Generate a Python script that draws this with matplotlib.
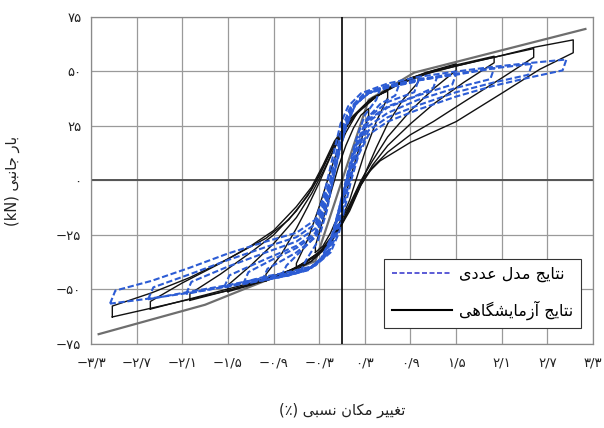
import matplotlib
matplotlib.use("Agg")
import matplotlib.pyplot as plt
from matplotlib.lines import Line2D

plt.rcParams['font.family'] = ['DejaVu Sans']

# ---- data (drift %, lateral load kN) ----
Y_TICKS = [-75, -50, -25, 0, 25, 50, 75]
Y_LABELS = ['−۷۵', '−۵۰', '−۲۵', '۰', '۲۵', '۵۰', '۷۵']
X_TICKS = [-3.3, -2.7, -2.1, -1.5, -0.9, -0.3, 0.3, 0.9, 1.5, 2.1, 2.7, 3.3]
X_LABELS = ['−۳/۳', '−۲/۷', '−۲/۱', '−۱/۵', '−۰/۹', '−۰/۳',
            '۰/۳', '۰/۹', '۱/۵', '۲/۱', '۲/۷', '۳/۳']

# grey straight envelope
ENVELOPE = [(-3.2, -70.5), (-1.8, -57), (-1.3, -50), (-0.35, -37), (0.35, 37), (0.95, 49.5), (3.2, 69.5)]

# experimental loops (black)
EXP_1 = [(-0.35, -33), (-0.35, -30), (-0.25, -18), (-0.15, -6), (-0.05, 6), (0.05, 16), (0.15, 24), (0.25, 30), (0.35, 33),
         (0.35, 30), (0.25, 18), (0.15, 6), (0.05, -6), (-0.05, -16), (-0.15, -24), (-0.25, -30), (-0.35, -33)]
EXP_2 = [(-0.6, -41), (-0.6, -38), (-0.45, -27), (-0.3, -12), (-0.2, -1), (-0.1, 10), (0.05, 22), (0.2, 31), (0.4, 38), (0.6, 41),
         (0.6, 38), (0.45, 27), (0.3, 13), (0.2, 2), (0.1, -9), (-0.05, -21), (-0.2, -30), (-0.4, -37), (-0.6, -41)]
EXP_3 = [(-1.0, -46), (-1.0, -43), (-0.8, -34), (-0.6, -22), (-0.45, -12), (-0.3, -1), (-0.15, 11), (0.0, 22), (0.2, 31),
         (0.45, 38.5), (0.7, 44), (1.0, 48),
         (1.0, 45), (0.8, 37), (0.6, 26), (0.45, 15), (0.3, 3), (0.15, -9), (0.0, -20), (-0.2, -30), (-0.45, -37),
         (-0.7, -42), (-1.0, -46)]
EXP_4 = [(-1.5, -51), (-1.5, -48), (-1.2, -39), (-0.9, -29), (-0.6, -17), (-0.4, -6), (-0.25, 4), (-0.1, 15), (0.1, 27),
         (0.3, 34.5), (0.6, 42), (0.9, 47), (1.2, 50.5), (1.5, 53.5),
         (1.5, 50.5), (1.2, 42), (0.9, 32), (0.6, 20), (0.4, 9), (0.25, 0), (0.1, -11), (-0.1, -24), (-0.3, -33),
         (-0.6, -40), (-0.9, -44), (-1.2, -48), (-1.5, -51)]
EXP_5 = [(-2.0, -55), (-2.0, -52), (-1.6, -43), (-1.2, -33), (-0.9, -25), (-0.6, -14), (-0.4, -4), (-0.25, 6), (-0.1, 17),
         (0.1, 28), (0.35, 36.5), (0.7, 44), (1.1, 49.5), (1.5, 53), (2.0, 57),
         (2.0, 54), (1.6, 45), (1.2, 35), (0.9, 26), (0.6, 16), (0.4, 7), (0.25, -2), (0.1, -13), (-0.1, -25),
         (-0.3, -33), (-0.6, -40), (-1.0, -46), (-1.5, -50.5), (-2.0, -55)]
EXP_6 = [(-2.52, -59), (-2.52, -55.5), (-2.1, -47), (-1.6, -38), (-1.2, -30), (-0.9, -23), (-0.6, -12), (-0.4, -3),
         (-0.25, 7), (-0.1, 18), (0.1, 28), (0.35, 36.5), (0.7, 43.5), (1.2, 50), (1.8, 55), (2.52, 60.5),
         (2.52, 56.5), (2.1, 47), (1.6, 36), (1.2, 27), (0.9, 21), (0.6, 13), (0.4, 6), (0.25, -2), (0.1, -14),
         (-0.1, -26), (-0.35, -35), (-0.7, -41.5), (-1.2, -47), (-1.8, -52.5), (-2.52, -59)]
EXP_7 = [(-3.02, -62.6), (-3.02, -57.6), (-2.5, -51.5), (-2.0, -44.5), (-1.5, -36), (-1.0, -26.5), (-0.7, -18),
         (-0.45, -7), (-0.3, 2), (-0.15, 13), (0.0, 22), (0.2, 31), (0.45, 38.5), (0.9, 47), (1.5, 52.5), (2.0, 56.5),
         (2.54, 61.2), (3.04, 64.5),
         (3.04, 58.6), (2.6, 51), (2.1, 40), (1.5, 27), (0.9, 17.5), (0.5, 9), (0.3, 2), (0.15, -8), (0.0, -19),
         (-0.15, -29), (-0.4, -37), (-0.9, -44.5), (-1.5, -50.5), (-2.0, -54.5), (-2.5, -58.5), (-3.02, -62.6)]

# numerical model loops (blue dashed)
NUM_1 = [(-0.55, -42), (-0.48, -37), (-0.32, -28), (-0.2, -14), (-0.12, 0), (-0.04, 13), (0.05, 25), (0.18, 35),
         (0.35, 40), (0.5, 42),
         (0.45, 37), (0.3, 30), (0.17, 17), (0.05, 0), (-0.04, -13), (-0.14, -26), (-0.28, -36), (-0.42, -40), (-0.55, -42)]
NUM_2 = [(-0.8, -44), (-0.73, -39), (-0.5, -31), (-0.33, -25), (-0.21, -12), (-0.12, 0), (-0.04, 12), (0.05, 24),
         (0.17, 34.5), (0.35, 40.5), (0.55, 42.5), (0.75, 44),
         (0.7, 39), (0.5, 35), (0.33, 28.5), (0.18, 16), (0.06, 0), (-0.03, -12), (-0.12, -25), (-0.26, -35.5),
         (-0.45, -41), (-0.8, -44)]
NUM_3 = [(-1.05, -46), (-0.98, -40.5), (-0.6, -33), (-0.35, -26), (-0.22, -13), (-0.13, 0), (-0.05, 12), (0.04, 24),
         (0.16, 34.5), (0.35, 40), (0.65, 43), (1.0, 45.5),
         (0.95, 40.5), (0.6, 36), (0.35, 29), (0.18, 16), (0.06, 0), (-0.03, -12), (-0.12, -25), (-0.25, -35),
         (-0.45, -41), (-0.7, -43.5), (-1.05, -46)]
NUM_4 = [(-1.3, -47.5), (-1.23, -42), (-0.9, -36), (-0.6, -31), (-0.35, -25), (-0.23, -12.5), (-0.14, 0), (-0.06, 12),
         (0.03, 24), (0.15, 34), (0.33, 40), (0.6, 43.5), (0.95, 45.5), (1.25, 47.5),
         (1.2, 42.5), (0.95, 38.5), (0.6, 34), (0.35, 28), (0.19, 15.5), (0.07, 0), (-0.02, -12), (-0.11, -24.5),
         (-0.23, -35), (-0.43, -41), (-0.7, -43.5), (-1.0, -45.5), (-1.3, -47.5)]
NUM_5 = [(-1.55, -49), (-1.48, -43.5), (-1.0, -36), (-0.6, -30), (-0.35, -24), (-0.23, -12), (-0.14, 0), (-0.06, 12),
         (0.03, 24), (0.14, 34), (0.32, 40), (0.6, 43.5), (1.0, 46), (1.5, 49),
         (1.45, 44), (1.0, 39), (0.6, 33.5), (0.35, 27), (0.19, 15), (0.07, 0), (-0.02, -12), (-0.1, -24),
         (-0.22, -34.5), (-0.42, -40.5), (-0.7, -43.5), (-1.0, -45.5), (-1.55, -49)]
NUM_6 = [(-2.05, -52), (-1.98, -46.5), (-1.5, -39.5), (-1.0, -33), (-0.6, -28), (-0.35, -22), (-0.24, -11), (-0.15, 0),
         (-0.07, 12), (0.02, 24), (0.12, 33.5), (0.3, 39.5), (0.6, 43), (1.0, 46), (1.5, 48.5), (2.0, 51.5),
         (1.95, 46.5), (1.5, 42.5), (1.0, 37), (0.6, 31), (0.35, 25), (0.2, 14), (0.08, 0), (0.0, -12), (-0.08, -24),
         (-0.2, -34), (-0.4, -40), (-0.7, -43), (-1.0, -45), (-1.5, -48.5), (-2.05, -52)]
NUM_7 = [(-2.55, -54.5), (-2.48, -49), (-2.0, -43), (-1.5, -36.5), (-1.0, -30.5), (-0.6, -26), (-0.35, -20),
         (-0.25, -10), (-0.16, 0), (-0.08, 12), (0.0, 24), (0.1, 33), (0.28, 39.5), (0.6, 43.5), (1.0, 46.5),
         (1.5, 49), (2.0, 51.5), (2.5, 53.5),
         (2.45, 48.5), (2.0, 45), (1.5, 40.5), (1.0, 34.5), (0.6, 29), (0.35, 23), (0.22, 13), (0.1, 0), (0.02, -12),
         (-0.06, -24), (-0.18, -33.5), (-0.38, -39.5), (-0.7, -42.5), (-1.0, -44.5), (-1.5, -48), (-2.0, -51),
         (-2.55, -54.5)]
NUM_8 = [(-3.05, -56.5), (-2.98, -50.5), (-2.5, -46), (-2.0, -40), (-1.5, -33.5), (-1.0, -28), (-0.6, -24),
         (-0.35, -18), (-0.25, -8), (-0.18, 2), (-0.1, 14), (-0.02, 26), (0.08, 34), (0.25, 40), (0.6, 44.5),
         (1.0, 47.5), (1.5, 50), (2.0, 52.2), (2.5, 54), (2.95, 55.5),
         (2.9, 50.5), (2.5, 47.5), (2.0, 43.5), (1.5, 38.5), (1.0, 32.5), (0.6, 27), (0.35, 21), (0.22, 12),
         (0.12, 0), (0.04, -12), (-0.04, -24), (-0.15, -33), (-0.35, -39), (-0.7, -42), (-1.0, -44), (-1.5, -48.5),
         (-2.0, -51.5), (-2.5, -54), (-3.05, -56.5)]

EXP_LOOPS = [EXP_1, EXP_2, EXP_3, EXP_4, EXP_5, EXP_6, EXP_7]
NUM_LOOPS = [NUM_1, NUM_2, NUM_3, NUM_4, NUM_5, NUM_6, NUM_7, NUM_8]

# ---- minimal Persian shaping (matplotlib has no complex text layout) ----
FORMS = {
    'ا': 'ﺍﺎ', 'آ': 'ﺁﺂ', 'د': 'ﺩﺪ', 'ر': 'ﺭﺮ', 'ز': 'ﺯﺰ',
    'ب': 'ﺏﺐﺑﺒ', 'ت': 'ﺕﺖﺗﺘ', 'ج': 'ﺝﺞﺟﺠ', 'س': 'ﺱﺲﺳﺴ', 'ش': 'ﺵﺶﺷﺸ',
    'ع': 'ﻉﻊﻋﻌ', 'غ': 'ﻍﻎﻏﻐ', 'ل': 'ﻝﻞﻟﻠ', 'م': 'ﻡﻢﻣﻤ', 'ن': 'ﻥﻦﻧﻨ',
    'ه': 'ﻩﻪﻫﻬ', 'ی': 'ﯼﯽﯾﯿ', 'ک': 'ﮎﮏﮐﮑ', 'گ': 'ﮒﮓﮔﮕ',
}


def fa(text):
    out = []
    for i, ch in enumerate(text):
        if ch not in FORMS:
            out.append(ch)
            continue
        prev = text[i - 1] if i > 0 else ''
        nxt = text[i + 1] if i + 1 < len(text) else ''
        forms = FORMS[ch]
        j_prev = prev in FORMS and len(FORMS[prev]) == 4
        j_next = len(forms) == 4 and nxt in FORMS
        if j_prev and j_next:
            out.append(forms[3])
        elif j_prev:
            out.append(forms[1])
        elif j_next:
            out.append(forms[2])
        else:
            out.append(forms[0])
    return ''.join(out)[::-1].translate(str.maketrans('()', ')('))


BLUE = '#2c5cd4'

fig = plt.figure(figsize=(6.04, 4.28), dpi=100)
ax = fig.add_axes([0.1507, 0.1963, 0.8311, 0.764])

ax.set_xlim(-3.3, 3.3)
ax.set_ylim(-75, 75)
ax.set_xticks(X_TICKS)
ax.set_xticklabels(X_LABELS)
ax.set_yticks(Y_TICKS)
ax.set_yticklabels(Y_LABELS)
ax.tick_params(length=0, labelsize=9.5, colors='#222222')
ax.tick_params(axis='x', pad=9)
ax.tick_params(axis='y', pad=7)
ax.grid(True, color='#9a9a9a', linewidth=0.9)
ax.set_axisbelow(True)
for sp in ax.spines.values():
    sp.set_color('#8a8a8a')
    sp.set_linewidth(0.9)

ax.axhline(0, color='#555555', linewidth=1.4, zorder=1)
ax.axvline(0, color='black', linewidth=1.2, zorder=5)

ex, ey = zip(*ENVELOPE)
ax.plot(ex, ey, color='#6e6e6e', linewidth=1.6, zorder=2)

for loop in EXP_LOOPS:
    lx, ly = zip(*loop)
    ax.plot(lx, ly, color='#111111', linewidth=1.0, zorder=3)

for loop in NUM_LOOPS:
    lx, ly = zip(*loop)
    ax.plot(lx, ly, color=BLUE, linewidth=1.5, linestyle=(0, (3, 1.3)), zorder=4)

handles = [Line2D([], [], color='#4040d0', linewidth=1.2, linestyle=(0, (3, 1.5))),
           Line2D([], [], color='black', linewidth=1.5)]
leg = ax.legend(handles, [fa('نتایج مدل عددی'), fa('نتایج آزمایشگاهی')],
                loc='lower right', bbox_to_anchor=(0.976, 0.049), borderaxespad=0,
                fontsize=11.5, handlelength=3.8, handletextpad=0.4, labelspacing=1.15,
                fancybox=False, framealpha=1, borderpad=0.5)
leg.get_frame().set_edgecolor('#333333')
leg.get_frame().set_linewidth(0.8)
leg.set_zorder(10)

ax.set_xlabel(fa('تغییر مکان نسبی (٪)'), fontsize=10.5, labelpad=24, color='#222222')
ax.set_ylabel('(kN) ' + fa('بار جانبی'), fontsize=10.5, labelpad=26, color='#222222')

fig.savefig('out.png', dpi=100)
